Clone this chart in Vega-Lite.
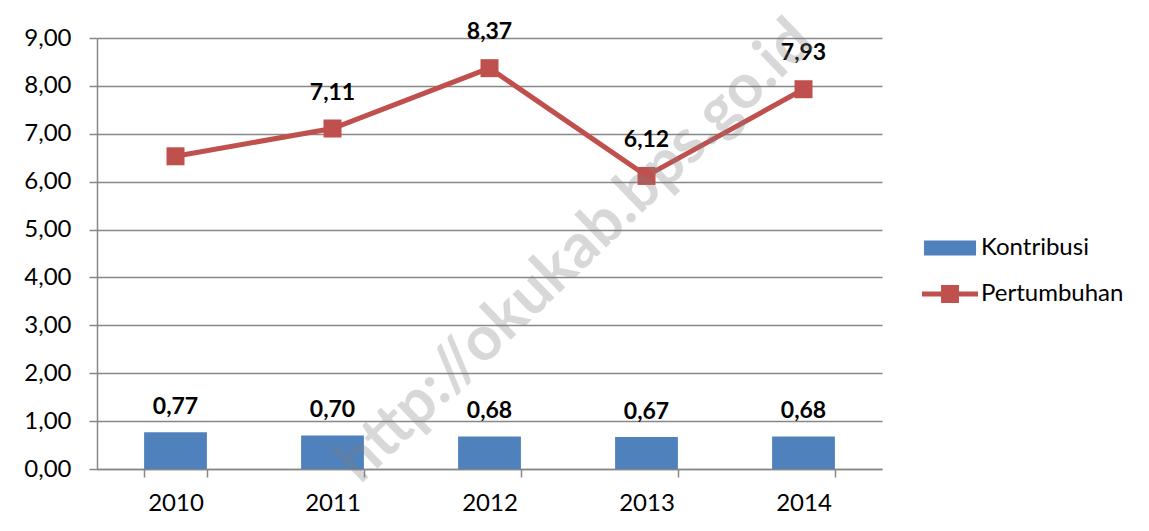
{
  "$schema": "https://vega.github.io/schema/vega-lite/v6.json",
  "width": 785,
  "height": 431,
  "autosize": {"type": "none"},
  "padding": {"left": 97, "top": 38, "right": 267, "bottom": 62},
  "background": "white",
  "config": {
    "locale": {"number": {"decimal": ",", "thousands": ".", "grouping": [3], "currency": ["", ""]}},
    "view": {"stroke": null},
    "font": "Lato",
    "axis": {"domainColor": "#878787", "tickColor": "#878787", "gridColor": "#878787", "domainWidth": 1.5, "tickWidth": 1.5, "gridWidth": 1.5, "labelFont": "Lato", "labelFontSize": 24, "labelColor": "#000000", "tickSize": 8, "title": null}
  },
  "data": {
    "values": [
      {"year": "2010", "series": "Kontribusi", "value": 0.77},
      {"year": "2011", "series": "Kontribusi", "value": 0.70},
      {"year": "2012", "series": "Kontribusi", "value": 0.68},
      {"year": "2013", "series": "Kontribusi", "value": 0.67},
      {"year": "2014", "series": "Kontribusi", "value": 0.68},
      {"year": "2010", "series": "Pertumbuhan", "value": 6.53},
      {"year": "2011", "series": "Pertumbuhan", "value": 7.11},
      {"year": "2012", "series": "Pertumbuhan", "value": 8.37},
      {"year": "2013", "series": "Pertumbuhan", "value": 6.12},
      {"year": "2014", "series": "Pertumbuhan", "value": 7.93}
    ]
  },
  "encoding": {
    "x": {
      "field": "year", "type": "ordinal",
      "scale": {"paddingInner": 0.6, "paddingOuter": 0.3},
      "axis": {"labelAngle": 0, "tickBand": "extent", "grid": false, "labelBaseline": "middle", "labelPadding": 26}
    },
    "y": {
      "field": "value", "type": "quantitative",
      "scale": {"domain": [0, 9], "nice": false},
      "axis": {"values": [0, 1, 2, 3, 4, 5, 6, 7, 8, 9], "format": ".2f", "grid": true, "labelPadding": 18}
    }
  },
  "layer": [
    {
      "transform": [{"filter": "datum.series === 'Kontribusi'"}],
      "mark": {"type": "bar"},
      "encoding": {
        "color": {
          "field": "series", "type": "nominal",
          "scale": {"domain": ["Kontribusi", "Pertumbuhan"], "range": ["#4F81BD", "#C0504D"]},
          "legend": {
            "orient": "none", "legendX": 839, "legendY": 196, "title": null,
            "symbolSize": 784, "labelFontSize": 24, "labelFont": "Lato", "labelColor": "#000000",
            "rowPadding": 20, "labelOffset": 17, "padding": 0,
            "encode": {
              "symbols": {
                "update": {
                  "shape": {"signal": "datum.value === 'Kontribusi' ? 'M-1.86,-0.54H1.86V0.54H-1.86Z' : 'M-2,-0.18H-0.64V-0.64H0.64V-0.18H2V0.18H0.64V0.64H-0.64V0.18H-2Z'"},
                  "fill": {"signal": "datum.value === 'Kontribusi' ? '#4F81BD' : '#C0504D'"},
                  "stroke": {"value": "transparent"},
                  "strokeWidth": {"value": 0},
                  "opacity": {"value": 1}
                }
              }
            }
          }
        }
      }
    },
    {
      "transform": [{"filter": "datum.series === 'Kontribusi'"}],
      "mark": {"type": "text", "fontWeight": "bold", "fontSize": 23, "font": "Lato", "dy": -25, "baseline": "middle", "color": "#000000"},
      "encoding": {"text": {"field": "value", "type": "quantitative", "format": ".2f"}}
    },
    {
      "transform": [{"filter": "datum.series === 'Pertumbuhan'"}],
      "mark": {"type": "line", "strokeWidth": 5, "point": {"filled": true, "shape": "square", "size": 324, "opacity": 1}},
      "encoding": {"color": {"field": "series", "type": "nominal"}}
    },
    {
      "transform": [{"filter": "datum.series === 'Pertumbuhan' && datum.year !== '2010'"}],
      "mark": {"type": "text", "fontWeight": "bold", "fontSize": 23, "font": "Lato", "dy": -36, "baseline": "middle", "color": "#000000"},
      "encoding": {"text": {"field": "value", "type": "quantitative", "format": ".2f"}}
    },
    {
      "data": {"values": [{"year": "2012", "value": 2.82, "mark": "http://okukab.bps.go.id"}]},
      "mark": {"type": "text", "fontWeight": "bold", "fontSize": 62, "font": "Lato", "angle": -44, "dx": 119, "align": "center", "baseline": "middle", "color": "#7f7f7f", "opacity": 0.3},
      "encoding": {"text": {"field": "mark", "type": "nominal"}}
    }
  ]
}
